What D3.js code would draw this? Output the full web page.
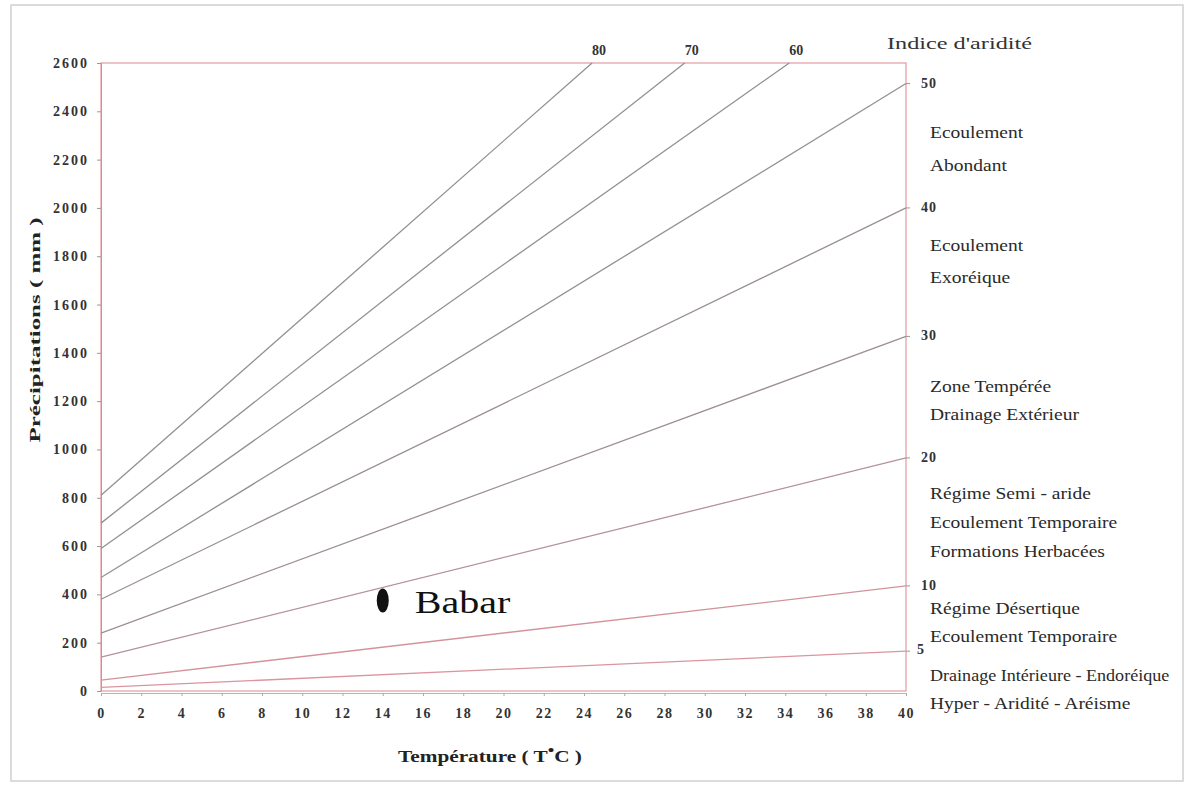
<!DOCTYPE html>
<html>
<head>
<meta charset="utf-8">
<script src="https://cdn.jsdelivr.net/npm/d3@7"></script>
<style>
  html, body { margin: 0; padding: 0; background: #ffffff; }
  svg { display: block; }
</style>
</head>
<body>
<svg id="chart" width="1186" height="785"></svg>
<script>
// De Martonne aridity abacus: precipitation vs. temperature with iso-index lines

const xTicks = [0, 2, 4, 6, 8, 10, 12, 14, 16, 18, 20, 22, 24, 26, 28, 30, 32, 34, 36, 38, 40];
const yTicks = [0, 200, 400, 600, 800, 1000, 1200, 1400, 1600, 1800, 2000, 2200, 2400, 2600];

// Iso-aridity lines: index, precipitation at 0 °C, and the end point (T, P)
const indices   = [80, 70, 60, 50, 40, 30, 20, 10, 5];
const startP    = [810, 695, 590, 470, 380, 240, 140, 45, 15];
const endT      = [24.4, 29.0, 34.2, 40, 40, 40, 40, 40, 40];
const endP      = [2600, 2600, 2600, 2515, 2000, 1468, 965, 435, 165];

// Station
const stationName = "Babar";
const stationT = 14.0;
const stationP = 375;

// Climate zone notes shown between the index labels on the right (y in mm)
const zoneLines = [
  { text: "Ecoulement", y: 2310 },
  { text: "Abondant", y: 2174 },
  { text: "Ecoulement", y: 1843 },
  { text: "Exoréique", y: 1710 },
  { text: "Zone Tempérée", y: 1259 },
  { text: "Drainage Extérieur", y: 1143 },
  { text: "Régime Semi - aride", y: 816 },
  { text: "Ecoulement Temporaire", y: 696 },
  { text: "Formations Herbacées", y: 576 },
  { text: "Régime Désertique", y: 340 },
  { text: "Ecoulement Temporaire", y: 224 },
  { text: "Drainage Intérieure - Endoréique", y: 62, squeeze: true },
  { text: "Hyper - Aridité - Aréisme", y: -54 }
];

const svg = d3.select("#chart");
const W = 1186, H = 785;
const margin = { left: 101, top: 63, right: 280, bottom: 94 };
const plotW = W - margin.left - margin.right;   // 805
const plotH = H - margin.top - margin.bottom;   // 628

const x = d3.scaleLinear().domain([0, 40]).range([margin.left, margin.left + plotW]);
const y = d3.scaleLinear().domain([0, 2600]).range([margin.top + plotH, margin.top]);

const serif = "'Liberation Serif', 'Times New Roman', serif";
const frameColor = "#e2a3aa";

// outer page frame
svg.append("rect")
  .attr("x", 11).attr("y", 5).attr("width", 1172).attr("height", 776)
  .attr("fill", "#ffffff").attr("stroke", "#d0d0d0").attr("stroke-width", 1.5);

// plot frame
svg.append("rect")
  .attr("x", x(0)).attr("y", y(2600))
  .attr("width", x(40) - x(0)).attr("height", y(0) - y(2600))
  .attr("fill", "none").attr("stroke", frameColor).attr("stroke-width", 1.3);

// left axis
const yAxis = d3.axisLeft(y).tickValues(yTicks).tickFormat(d3.format("d")).tickSize(4).tickPadding(8);
const gy = svg.append("g").attr("transform", `translate(${x(0)},0)`).call(yAxis);
gy.select(".domain").attr("stroke", "#a8a0a4");
gy.selectAll(".tick line").attr("stroke", "#999");
gy.selectAll(".tick text")
  .attr("font-family", serif).attr("font-weight", "bold").attr("font-size", 14)
  .attr("letter-spacing", "2px").attr("fill", "#333");

// bottom axis
const xAxis = d3.axisBottom(x).tickValues(xTicks).tickFormat(d3.format("d")).tickSize(3).tickPadding(12);
const gx = svg.append("g").attr("transform", `translate(0,${y(0) + 2})`).call(xAxis);
gx.select(".domain").attr("stroke", frameColor);
gx.selectAll(".tick line").attr("stroke", "#aaa");
gx.selectAll(".tick text")
  .attr("font-family", serif).attr("font-weight", "bold").attr("font-size", 14)
  .attr("letter-spacing", "1.5px").attr("fill", "#333");

// iso-index lines
const lineColor = d3.scaleOrdinal()
  .domain(indices)
  .range(["#948f91", "#948f91", "#948f91", "#968f91", "#998f92", "#9c8f93", "#b49298", "#d2939c", "#dc949e"]);

const lines = indices.map((idx, i) => ({
  idx,
  pts: [[0, startP[i]], [endT[i], endP[i]]]
}));

const lineGen = d3.line().x(d => x(d[0])).y(d => y(d[1]));

svg.append("g").selectAll("path")
  .data(lines)
  .join("path")
  .attr("d", d => lineGen(d.pts))
  .attr("fill", "none")
  .attr("stroke", d => lineColor(d.idx))
  .attr("stroke-width", 1.3);

// labels for lines reaching the top border
svg.append("g").selectAll("text")
  .data(lines.filter(d => d.pts[1][1] >= 2600))
  .join("text")
  .attr("x", d => x(d.pts[1][0]) + 7)
  .attr("y", y(2600) - 8)
  .attr("text-anchor", "middle")
  .attr("font-family", serif).attr("font-weight", "bold").attr("font-size", 14)
  .attr("fill", "#333")
  .text(d => d.idx);

// labels for lines reaching the right border
svg.append("g").selectAll("text")
  .data(lines.filter(d => d.pts[1][1] < 2600))
  .join("text")
  .attr("x", d => x(40) + (d.idx === 5 ? 11 : 15))
  .attr("y", d => y(d.pts[1][1]) + (d.idx === 5 ? 3 : 4))
  .attr("font-family", serif).attr("font-weight", "bold").attr("font-size", 14)
  .attr("letter-spacing", "1px")
  .attr("fill", "#333")
  .text(d => d.idx);

// right-side ticks where the lines meet the border
svg.append("g").selectAll("line")
  .data(lines.filter(d => d.pts[1][1] < 2600))
  .join("line")
  .attr("x1", x(40)).attr("x2", x(40) + 4)
  .attr("y1", d => y(d.pts[1][1])).attr("y2", d => y(d.pts[1][1]))
  .attr("stroke", "#999");

// index heading
svg.append("text")
  .attr("x", 887).attr("y", 49)
  .attr("font-family", serif).attr("font-size", 16).attr("fill", "#333")
  .attr("textLength", 145).attr("lengthAdjust", "spacingAndGlyphs")
  .text("Indice d'aridité");

// zone descriptions
svg.append("g")
  .selectAll("text")
  .data(zoneLines)
  .join("text")
  .attr("transform", d => `translate(930,${y(d.y) + 5}) scale(${d.squeeze ? 1.13 : 1.22},1)`)
  .attr("font-family", serif).attr("font-size", 16).attr("fill", "#2a2a2a")
  .text(d => d.text);

// station marker and name
svg.append("ellipse")
  .attr("cx", x(stationT)).attr("cy", y(stationP))
  .attr("rx", 6).attr("ry", 12)
  .attr("fill", "#111");
svg.append("text")
  .attr("transform", `translate(${x(stationT) + 32},${y(stationP) + 13}) scale(1.25,1)`)
  .attr("font-family", serif).attr("font-size", 32).attr("fill", "#111")
  .text(stationName);

// axis titles
const xt = svg.append("text")
  .attr("transform", "translate(490,762) scale(1.33,1)")
  .attr("text-anchor", "middle")
  .attr("font-family", serif).attr("font-weight", "bold").attr("font-size", 16)
  .attr("fill", "#222");
xt.append("tspan").text("Température ( T");
xt.append("tspan").attr("dy", -7).attr("font-size", 14).text("•");
xt.append("tspan").attr("dy", 7).text("C )");

svg.append("text")
  .attr("transform", `translate(40,330) rotate(-90)`)
  .attr("text-anchor", "middle")
  .attr("font-family", serif).attr("font-weight", "bold").attr("font-size", 15)
  .attr("textLength", 225).attr("lengthAdjust", "spacingAndGlyphs")
  .attr("fill", "#222")
  .text("Précipitations ( mm )");
</script>
</body>
</html>
